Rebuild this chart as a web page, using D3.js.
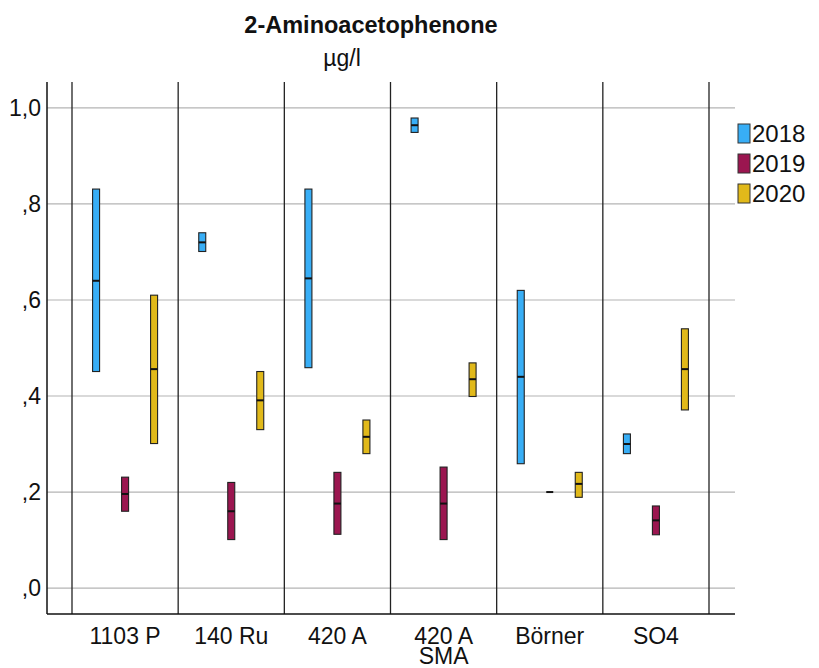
<!DOCTYPE html>
<html>
<head>
<meta charset="utf-8">
<script src="https://cdn.jsdelivr.net/npm/d3@7"></script>
<style>
  body { margin: 0; background: #fff; }
  text { font-family: "Liberation Sans", Arial, sans-serif; fill: #111; }
</style>
</head>
<body>
<div id="chart"></div>
<script>
// Categories and groups
const categories = ["1103 P", "140 Ru", "420 A", "420 A\nSMA", "Börner", "SO4"];
const years = ["2018", "2019", "2020"];
const yTicks = [0, 0.2, 0.4, 0.6, 0.8, 1.0];

// low / median / high per year, one value per category
const lo2018 = [0.451, 0.701, 0.459, 0.949, 0.259, 0.280];
const md2018 = [0.640, 0.720, 0.645, 0.964, 0.440, 0.300];
const hi2018 = [0.831, 0.740, 0.831, 0.979, 0.620, 0.321];
const lo2019 = [0.160, 0.101, 0.112, 0.101, 0.200, 0.111];
const md2019 = [0.196, 0.160, 0.176, 0.176, 0.200, 0.141];
const hi2019 = [0.231, 0.220, 0.241, 0.252, 0.200, 0.171];
const lo2020 = [0.301, 0.330, 0.280, 0.399, 0.189, 0.371];
const md2020 = [0.456, 0.391, 0.315, 0.435, 0.217, 0.456];
const hi2020 = [0.610, 0.451, 0.350, 0.469, 0.241, 0.540];

const colors = { "2018": "#38aef6", "2019": "#9b1650", "2020": "#e1b91a" };

// build rows for drawing
const series = { "2018": [lo2018, md2018, hi2018], "2019": [lo2019, md2019, hi2019], "2020": [lo2020, md2020, hi2020] };
let rows = [];
years.forEach(yr => {
  categories.forEach((c, i) => {
    rows.push({ cat: c, year: yr, lo: series[yr][0][i], md: series[yr][1][i], hi: series[yr][2][i] });
  });
});

const width = 819, height = 668;
const plot = { left: 47, right: 735, top: 82, bottom: 614 };

let svg = d3.select('#chart').append('svg')
  .attr('width', width)
  .attr('height', height);

let y = d3.scaleLinear().domain([-0.054, 1.054]).range([plot.bottom, plot.top]);
let x = d3.scaleBand().domain(categories).range([72, 709]).padding(0);
let xInner = d3.scalePoint().domain(years).range([-29, 29]);

// horizontal gridlines
svg.append('g').selectAll('line')
  .data(yTicks)
  .enter().append('line')
  .attr('x1', plot.left).attr('x2', plot.right)
  .attr('y1', d => y(d)).attr('y2', d => y(d))
  .attr('stroke', '#b4b4b4').attr('stroke-width', 1.2);

// category separators
let seps = categories.map(c => x(c)).concat([x(categories[categories.length - 1]) + x.bandwidth()]);
svg.append('g').selectAll('line')
  .data(seps)
  .enter().append('line')
  .attr('x1', d => d).attr('x2', d => d)
  .attr('y1', plot.top).attr('y2', plot.bottom)
  .attr('stroke', '#222').attr('stroke-width', 1.3);

// axes lines
svg.append('line')
  .attr('x1', plot.left).attr('x2', plot.left)
  .attr('y1', plot.top).attr('y2', plot.bottom)
  .attr('stroke', '#111').attr('stroke-width', 1.5);
svg.append('line')
  .attr('x1', plot.left).attr('x2', plot.right)
  .attr('y1', plot.bottom).attr('y2', plot.bottom)
  .attr('stroke', '#111').attr('stroke-width', 1.5);

// y tick labels
const fmt = d => d3.format('.1f')(d).replace('.', ',').replace(/^0,/, ',');
svg.append('g').selectAll('text')
  .data(yTicks)
  .enter().append('text')
  .attr('x', 41).attr('y', d => y(d) + 8)
  .attr('text-anchor', 'end')
  .style('font-size', '23px')
  .text(fmt);

// x labels
let xl = svg.append('g').selectAll('text')
  .data(categories)
  .enter().append('text')
  .attr('text-anchor', 'middle')
  .attr('y', 644)
  .style('font-size', '23px');
xl.each(function(d) {
  let t = d3.select(this);
  d.split('\n').forEach((part, k) => {
    t.append('tspan')
      .attr('x', x(d) + x.bandwidth() / 2)
      .attr('dy', k === 0 ? 0 : 20)
      .text(part);
  });
});

// boxes
const boxW = 7;
let g = svg.append('g');
g.selectAll('rect.box')
  .data(rows)
  .enter().append('rect')
  .attr('class', 'box')
  .attr('x', d => x(d.cat) + x.bandwidth() / 2 + xInner(d.year) - boxW / 2)
  .attr('width', boxW)
  .attr('y', d => y(d.hi))
  .attr('height', d => y(d.lo) - y(d.hi))
  .attr('fill', d => colors[d.year])
  .attr('stroke', '#222').attr('stroke-width', 1.1);

g.selectAll('line.med')
  .data(rows)
  .enter().append('line')
  .attr('class', 'med')
  .attr('x1', d => x(d.cat) + x.bandwidth() / 2 + xInner(d.year) - boxW / 2)
  .attr('x2', d => x(d.cat) + x.bandwidth() / 2 + xInner(d.year) + boxW / 2)
  .attr('y1', d => y(d.md)).attr('y2', d => y(d.md))
  .attr('stroke', '#111').attr('stroke-width', 2);

// title
svg.append('text')
  .attr('x', 371).attr('y', 33)
  .attr('text-anchor', 'middle')
  .style('font-size', '23.5px').style('font-weight', 'bold')
  .text('2-Aminoacetophenone');
svg.append('text')
  .attr('x', 342).attr('y', 66)
  .attr('text-anchor', 'middle')
  .style('font-size', '23px')
  .text('µg/l');

// legend
let leg = svg.append('g').selectAll('g')
  .data(years)
  .enter().append('g')
  .attr('transform', (d, i) => `translate(738, ${124 + i * 30})`);
leg.append('rect')
  .attr('width', 12).attr('height', 19)
  .attr('fill', d => colors[d])
  .attr('stroke', '#333').attr('stroke-width', 1);
leg.append('text')
  .attr('x', 14).attr('y', 18)
  .style('font-size', '24px')
  .text(d => d);
</script>
</body>
</html>
